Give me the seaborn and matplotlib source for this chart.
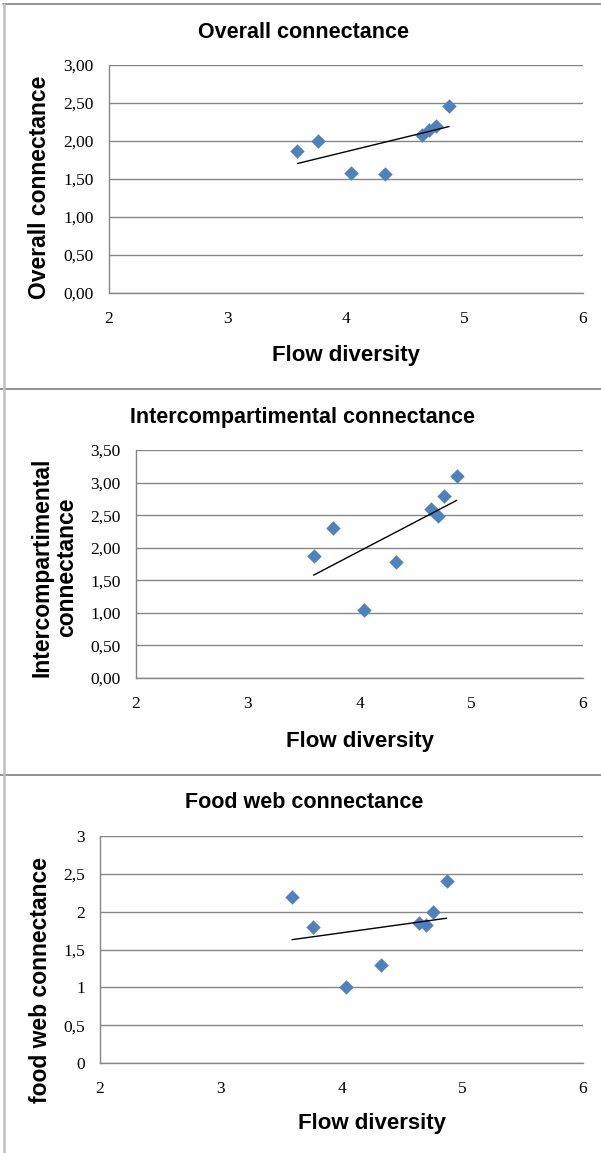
import numpy as np
import pandas as pd
import matplotlib
matplotlib.use("Agg")
import matplotlib.pyplot as plt
import seaborn as sns
from matplotlib.lines import Line2D

# values
flow_diversity = [3.59, 3.76, 4.04, 4.33, 4.64, 4.70, 4.76, 4.87]
overall_conn = [1.87, 2.00, 1.58, 1.56, 2.08, 2.15, 2.20, 2.46]
intercomp_conn = [1.87, 2.30, 1.05, 1.78, 2.60, 2.49, 2.80, 3.10]
foodweb_conn = [2.20, 1.80, 1.00, 1.29, 1.85, 1.82, 2.00, 2.40]

x_ticks = [2, 3, 4, 5, 6]
y_ticks_1 = [0, 0.5, 1.0, 1.5, 2.0, 2.5, 3.0]
y_labels_1 = ["0,00", "0,50", "1,00", "1,50", "2,00", "2,50", "3,00"]
y_ticks_2 = [0, 0.5, 1.0, 1.5, 2.0, 2.5, 3.0, 3.5]
y_labels_2 = ["0,00", "0,50", "1,00", "1,50", "2,00", "2,50", "3,00", "3,50"]
y_ticks_3 = [0, 0.5, 1.0, 1.5, 2.0, 2.5, 3.0]
y_labels_3 = ["0", "0,5", "1", "1,5", "2", "2,5", "3"]

titles = ["Overall connectance", "Intercompartimental connectance", "Food web connectance"]
y_titles = ["Overall connectance", "Intercompartimental\nconnectance", "food web connectance"]
x_title = "Flow diversity"

W, H = 601, 1153
sns.set_style("white")
plt.rcParams["font.family"] = ["Liberation Sans", "DejaVu Sans"]
plt.rcParams["text.color"] = "black"

GRAY = "#868686"
BLUE = "#4F81BD"


def fx(x):
    return x / W


def fy(y):
    return 1 - y / H


fig = plt.figure(figsize=(W / 100, H / 100), dpi=100)

# panel frames
for yb in [4, 389, 775]:
    fig.add_artist(Line2D([fx(0 if yb > 4 else 3), 1], [fy(yb), fy(yb)], color="#7f7f7f", lw=1.2))
fig.add_artist(Line2D([fx(3.5), fx(3.5)], [fy(4), 0], color="#c0c0c0", lw=1.8))

panels = [
    dict(y=overall_conn, box=(109, 583, 65, 293), ymax=3.0, yt=y_ticks_1, yl=y_labels_1,
         title=(304, 32), xlab=(346, 356), ylab=(40, 187)),
    dict(y=intercomp_conn, box=(136, 583, 450, 678), ymax=3.5, yt=y_ticks_2, yl=y_labels_2,
         title=(303, 417), xlab=(360, 741), ylab=(54, 567)),
    dict(y=foodweb_conn, box=(100, 583, 836, 1063), ymax=3.0, yt=y_ticks_3, yl=y_labels_3,
         title=(304, 802), xlab=(372, 1123), ylab=(41, 980)),
]

for i, p in enumerate(panels):
    left, right, top, bottom = p["box"]
    ax = fig.add_axes([fx(left), fy(bottom), (right - left) / W, (bottom - top) / H])
    df = pd.DataFrame({"x": flow_diversity, "y": p["y"]})
    sns.regplot(data=df, x="x", y="y", ax=ax, ci=None, marker="D", color=BLUE,
                scatter_kws={"s": 54, "linewidths": 0, "alpha": 1, "zorder": 3},
                line_kws={"color": "black", "lw": 1.0, "zorder": 4})
    ax.set_xlim(2, 6)
    ax.set_ylim(0, p["ymax"])
    ax.set_xticks(x_ticks)
    ax.set_xticklabels([str(t) for t in x_ticks])
    ax.set_yticks(p["yt"])
    ax.set_yticklabels(p["yl"])
    ax.set_xlabel("")
    ax.set_ylabel("")
    ax.grid(axis="y", color=GRAY, lw=1.0)
    ax.grid(axis="x", visible=False)
    ax.set_axisbelow(True)
    for s in ["top", "right"]:
        ax.spines[s].set_visible(False)
    for s in ["left", "bottom"]:
        ax.spines[s].set_color(GRAY)
        ax.spines[s].set_linewidth(1.0)
    ax.tick_params(axis="both", which="major", direction="out", length=5, width=1,
                   color=GRAY, labelsize=12.5, labelcolor="black")
    ax.tick_params(axis="y", pad=6)
    ax.tick_params(axis="x", pad=8)
    for lab in ax.get_xticklabels() + ax.get_yticklabels():
        lab.set_fontfamily(["Liberation Serif", "DejaVu Serif"])

    fig.text(fx(p["title"][0]), fy(p["title"][1]), titles[i], ha="center", va="center",
             fontsize=15.5, fontweight="bold")
    fig.text(fx(p["xlab"][0]), fy(p["xlab"][1]), x_title, ha="center", va="center",
             fontsize=16, fontweight="bold")
    fig.text(fx(p["ylab"][0]), fy(p["ylab"][1]), y_titles[i], ha="center", va="center",
             rotation=90, fontsize=16.5, fontweight="bold", linespacing=1.1)

fig.savefig("out.png", dpi=100)
